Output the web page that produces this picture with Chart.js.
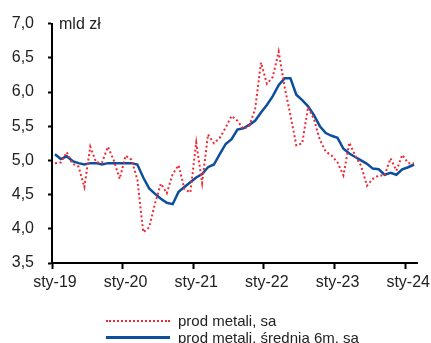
<!DOCTYPE html>
<html>
<head>
<meta charset="utf-8">
<script src="https://cdn.jsdelivr.net/npm/chart.js@4"></script>
<style>
  html, body { margin: 0; padding: 0; background: #fff; }
  #wrap { position: relative; width: 431px; height: 343px; overflow: hidden; }
  #legend { position: absolute; left: 106px; top: 312px; font: 15px 'Liberation Sans Narrow', 'Liberation Sans', Arial, sans-serif; color: #222; }
  .item { display: flex; align-items: center; height: 17px; }
  .swatch { width: 64px; margin-right: 8px; }
</style>
</head>
<body>
<div id="wrap">
  <canvas id="myChart1" width="431" height="343"></canvas>
  <div id="legend">
    <div class="item"><span class="swatch" style="border-top: 2px dotted #ee2a35;"></span>prod metali, sa</div>
    <div class="item"><span class="swatch" style="border-top: 3px solid #0d4f9c;"></span>prod metali, średnia 6m. sa</div>
  </div>
</div>
<script>
// monthly categories, Jan 2019 - Feb 2024
const monthNames = ["sty", "lut", "mar", "kwi", "maj", "cze", "lip", "sie", "wrz", "paź", "lis", "gru"];
const startYear = 2019;
const monthCount = 62;

// production of metals, bn PLN, seasonally adjusted
const prodMetali = [
  4.96, 4.97, 5.12, 4.95, 4.91, 4.61, 5.20, 4.97, 4.97, 5.20,
  5.00, 4.73, 5.07, 5.01, 4.72, 3.95, 4.02, 4.37, 4.66, 4.52,
  4.80, 4.93, 4.58, 4.53, 5.26, 4.67, 5.38, 5.25, 5.33, 5.48,
  5.65, 5.58, 5.46, 5.50, 5.75, 6.43, 6.12, 6.22, 6.59, 6.08,
  5.66, 5.22, 5.25, 5.78, 5.60, 5.30, 5.13, 5.07, 4.97, 4.78,
  5.26, 5.07, 4.92, 4.63, 4.73, 4.78, 4.78, 5.03, 4.85, 5.08,
  4.96, 4.96
];

// 6-month moving average
const prodMetali6m = [
  5.09, 5.02, 5.06, 4.99, 4.96, 4.94, 4.96, 4.96, 4.94, 4.96,
  4.96, 4.96, 4.96, 4.96, 4.94, 4.75, 4.59, 4.51, 4.44, 4.38,
  4.36, 4.54, 4.61, 4.68, 4.75, 4.80, 4.90, 4.94, 5.09, 5.24,
  5.31, 5.45, 5.47, 5.52, 5.58, 5.70, 5.81, 5.94, 6.10, 6.20,
  6.20, 5.96, 5.88, 5.79, 5.66, 5.50, 5.40, 5.36, 5.33, 5.17,
  5.10, 5.05, 5.00, 4.95, 4.88, 4.87, 4.79, 4.82, 4.79, 4.87,
  4.90, 4.94
];

const yMin = 3.5;
const yMax = 7.0;
const yStep = 0.5;
const unitLabel = "mld zł";

let labels = [];
for (let i = 0; i < monthCount; i++) {
  let y = startYear + Math.floor(i / 12);
  labels.push(monthNames[i % 12] + "-" + String(y).slice(2));
}

const fontFamily = "'Liberation Sans Narrow', 'Liberation Sans', Arial, sans-serif";
Chart.defaults.font.family = fontFamily;
Chart.defaults.font.size = 16;
Chart.defaults.color = "#222";

// unit caption in the top-left corner of the plot
const unitPlugin = {
  id: "unitPlugin",
  afterDraw(chart) {
    const ctx = chart.ctx;
    ctx.save();
    ctx.font = "16px " + fontFamily;
    ctx.fillStyle = "#222";
    ctx.textBaseline = "middle";
    ctx.fillText(unitLabel, chart.chartArea.left + 7, chart.chartArea.top + 1);
    ctx.restore();
  }
};

new Chart(document.getElementById("myChart1"), {
  type: "line",
  data: {
    labels: labels,
    datasets: [
      {
        label: "prod metali, sa",
        data: prodMetali,
        borderColor: "#ee2a35",
        borderWidth: 2,
        borderDash: [2, 2.5],
        pointRadius: 0,
        tension: 0,
      },
      {
        label: "prod metali, średnia 6m. sa",
        data: prodMetali6m,
        borderColor: "#0d4f9c",
        borderWidth: 2.5,
        pointRadius: 0,
        tension: 0,
      },
    ],
  },
  options: {
    responsive: false,
    animation: false,
    layout: { padding: { left: 0, right: 14, top: 22, bottom: 50 } },
    plugins: { legend: { display: false }, tooltip: { enabled: false } },
    scales: {
      x: {
        type: "category",
        offset: true,
        border: { color: "#000", width: 2 },
        grid: {
          offset: true,
          drawOnChartArea: false,
          tickLength: 6,
          tickWidth: 2,
          color: (c) => (c.index % 12 === 0 ? "#000" : "rgba(0,0,0,0)"),
        },
        ticks: {
          autoSkip: false,
          maxRotation: 0,
          padding: 4,
          callback: function (value, index) {
            return index % 12 === 0 ? this.getLabelForValue(value) : "";
          },
        },
        afterFit: (scale) => { scale.height = 30; },
      },
      y: {
        min: yMin,
        max: yMax,
        border: { color: "#000", width: 2 },
        grid: { drawOnChartArea: false, tickLength: 4, tickWidth: 2, color: "#000" },
        ticks: {
          stepSize: yStep,
          padding: 14,
          callback: (v) => v.toFixed(1).replace(".", ","),
        },
        afterFit: (scale) => { scale.width = 52; },
      },
    },
  },
  plugins: [unitPlugin],
});
</script>
</body>
</html>
